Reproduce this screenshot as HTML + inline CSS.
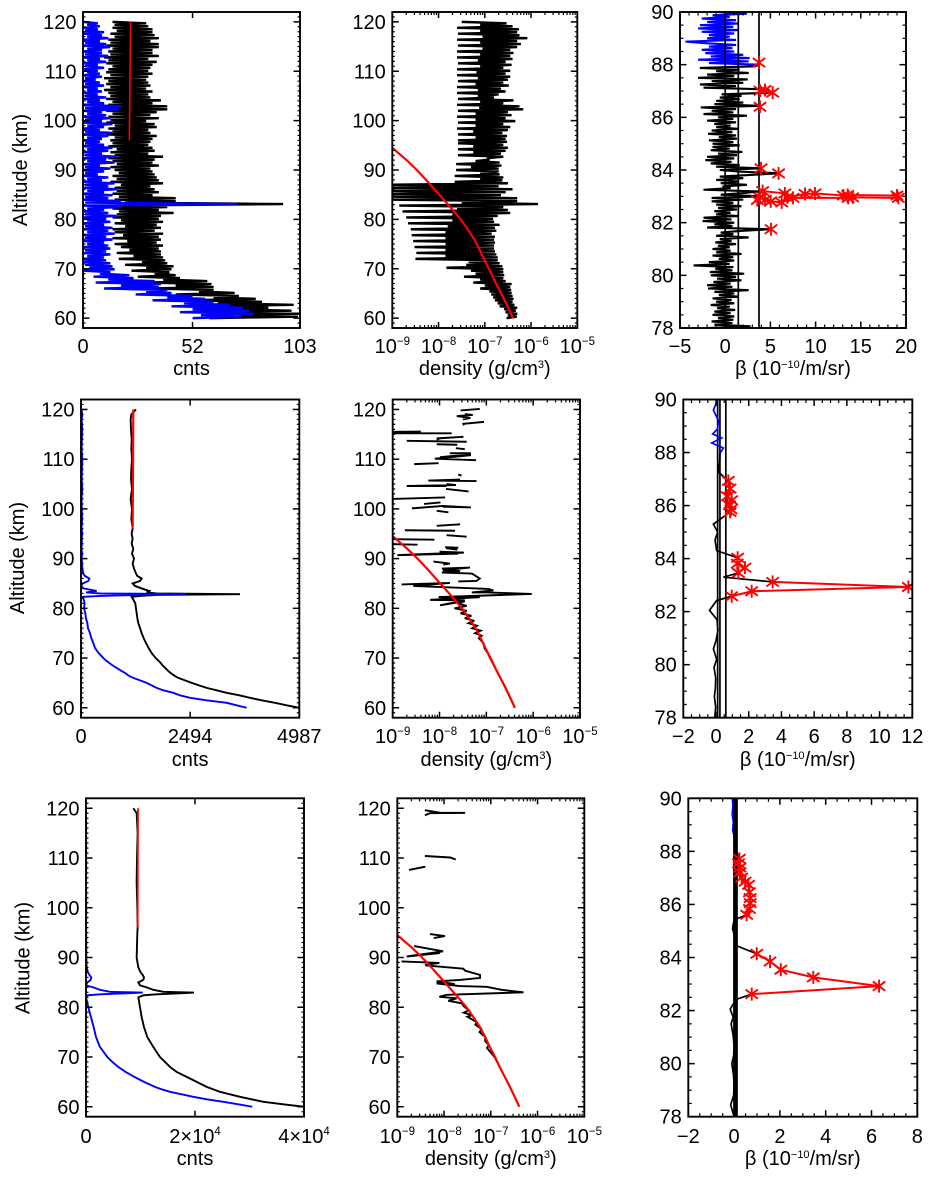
<!DOCTYPE html>
<html lang="en">
<head>
<meta charset="utf-8">
<title>Lidar altitude profiles</title>
<style>
html,body{margin:0;padding:0;background:#fff}
svg{display:block;filter:blur(0.35px)}
text{font-family:"Liberation Sans",Arial,sans-serif;fill:#000}
</style>
</head>
<body>
<svg id="figure" xmlns="http://www.w3.org/2000/svg" width="931" height="1179" viewBox="0 0 931 1179"></svg>
<script>
/* ---------- Row 1: counts (dense, sampled every 0.3 km from 60 km) ---------- */
const row1CountsBlack = [
60,102,74,103,58,99,70,88,52,100,64,85,50,82,62,74,44,72,55,62,
33,62,44,61,30,59,38,46,26,44,34,41,23,42,30,43,20,40,28,39,
17,38,24,37,16,37,22,36,18,38,15,35,21,37,14,36,19,38,15,34,
14,37,20,35,15,38,18,36,14,37,16,43,17,36,14,40,16,95,20,44,
15,44,17,33,14,36,16,34,15,32,18,38,13,36,16,35,14,34,17,33,
15,32,13,36,16,33,14,34,12,38,15,31,13,34,16,33,12,31,14,32,
13,33,15,35,11,32,14,31,12,35,15,34,11,30,13,36,12,32,14,35,
11,40,13,40,12,33,14,37,11,32,13,31,12,33,10,30,13,32,11,31,
12,30,10,31,13,33,11,31,12,32,14,33,11,35,12,31,10,36,13,33,
12,33,14,36,11,36,13,32,12,36,15,34,13,33,16,33,14,31,15,30,
14];
const row1CountsBlue = [
52,75,56,81,46,79,52,76,42,70,48,62,33,58,40,52,25,42,30,40,
10,36,18,37,6,34,12,24,5,22,8,13,0,15,3,14,1,13,0,11,
0,10,2,13,0,11,1,13,0,12,2,10,0,14,1,11,0,15,2,12,
0,14,1,10,0,13,2,11,0,16,1,12,0,10,2,17,0,73,1,18,
0,12,1,14,0,10,2,16,0,12,1,15,0,9,2,12,0,7,1,10,
0,13,1,8,0,15,2,11,0,16,1,9,0,12,2,14,0,10,1,8,
0,9,2,12,0,14,1,8,0,10,2,14,0,9,1,13,0,11,2,9,
0,17,1,18,0,10,2,8,0,11,1,7,0,9,2,7,0,10,1,8,
0,6,1,9,0,8,2,7,0,10,1,7,0,11,2,8,0,12,1,9,
0,9,2,13,0,11,1,8,0,12,2,9,0,10,1,7,0,8,2,7,
0];
const row1FitAlt = [96,120];
const row1FitCounts = [22,22.6];
const row1CountTicks = [0,52,103];
const row1CountLabels = ['0','52','103'];

/* ---------- Row 1: log10 density (same 0.3 km sampling) ---------- */
const row1DensityLog = [
-6.53,-6.31,-6.5,-6.3,-6.55,-6.33,-6.58,-6.3,-6.68,-6.36,-6.72,-6.4,-6.78,-6.38,-6.82,-6.4,-6.86,-6.42,-6.9,-6.43,
-7.1,-6.45,-7.0,-6.42,-7.25,-6.55,-7.1,-6.6,-7.45,-6.58,-7.2,-6.6,-7.3,-6.6,-7.83,-6.62,-7.4,-6.68,-7.35,-6.72,
-8.5,-6.72,-7.85,-6.75,-8.48,-6.78,-7.85,-6.8,-8.52,-6.8,-7.85,-6.78,-8.55,-6.8,-7.85,-6.78,-8.58,-6.85,-7.85,-6.75,
-8.6,-6.78,-7.8,-6.68,-8.66,-6.8,-7.7,-6.82,-8.7,-6.72,-7.7,-6.45,-8.78,-6.5,-7.6,-6.6,-8.85,-5.85,-7.5,-6.3,
-9.1,-6.3,-9.1,-6.65,-9.1,-6.55,-9.1,-6.4,-9.1,-6.7,-9.1,-6.5,-7.65,-6.62,-7.1,-6.6,-7.65,-6.68,-7.1,-6.7,
-7.62,-6.7,-7.3,-6.64,-7.62,-6.68,-7.2,-6.9,-6.95,-6.6,-7.58,-6.65,-7.25,-6.55,-7.58,-6.5,-7.25,-6.6,-7.58,-6.52,
-7.58,-6.55,-7.2,-6.52,-7.58,-6.62,-7.25,-6.5,-7.6,-6.45,-7.2,-6.6,-7.58,-6.34,-7.2,-6.55,-7.6,-6.42,-7.2,-6.5,
-7.58,-6.17,-7.12,-6.25,-7.6,-6.6,-7.1,-6.38,-7.58,-6.8,-7.15,-6.7,-7.6,-6.55,-7.15,-6.65,-7.6,-6.48,-7.2,-6.6,
-7.58,-6.5,-7.15,-6.45,-7.6,-6.55,-7.18,-6.45,-7.6,-6.6,-7.1,-6.42,-7.58,-6.55,-7.15,-6.4,-7.6,-6.45,-7.1,-6.38,
-7.6,-6.45,-7.05,-6.3,-7.58,-6.22,-7.1,-6.3,-7.6,-6.08,-7.05,-6.25,-7.58,-6.3,-7.1,-6.26,-7.6,-6.4,-7.1,-6.53,
-7.5];

/* ---------- Model density curve, shared by all rows ---------- */
const modelAlt = [60,62,64,66,68,70,72,74,76,78,80,82,84,86,88,90,92,94.5];
const modelDensityLog = [-6.39,-6.49,-6.59,-6.7,-6.81,-6.91,-7.02,-7.12,-7.23,-7.37,-7.52,-7.7,-7.89,-8.08,-8.27,-8.47,-8.69,-9];
const densityTickExponents = [-9,-8,-7,-6,-5];

/* ---------- Row 1: beta (sampled every 1/16 km from 78 km) ---------- */
const row1BetaBlack = [
-2,2.8,-1.2,0.8,-1.5,0.9,-0.8,1.0,-1.4,0.6,-1.2,1.1,-0.9,0.5,-1.6,1.0,
-1.0,0.7,-1.4,1.5,-0.7,1.0,-1.2,2.6,-1.9,0.8,-2.0,0.6,-1.3,1.8,-0.9,1.2,
-1.6,2.1,-1.7,0.8,-1.1,0.9,-3.5,0.5,-1.8,1.0,-0.7,0.9,-1.4,1.8,-1.0,0.6,
-1.4,0.5,-0.8,1.2,-1.1,0.7,-0.6,2.6,-1.0,0.9,-0.5,1.7,5.0,-2.0,0.8,-1.2,
1.0,-2.5,0.7,-2.4,1.4,-1.0,0.6,-1.2,1.3,-0.8,1.8,-1.0,0.9,-1.5,2.0,-1.5,
4.0,-0.5,2.0,3.7,-2.4,0.6,-0.3,2.4,-0.5,1.5,-1.0,2.0,-0.6,2.8,6.0,1.8,
-0.6,4.0,-1.0,1.6,-1.6,0.7,-2.2,1.0,-2.0,1.3,-0.8,1.9,-1.6,0.5,-1.4,1.6,
-1.4,0.9,-1.8,1.3,-0.7,1.2,-1.9,0.8,-1.5,1.4,-1.0,0.6,-1.2,1.2,-2.0,0.9,
-0.8,2.4,-2.4,0.9,-1.5,1.2,-2.7,3.85,-1.2,2.0,-1.0,1.6,-0.6,1.8,-0.4,5.25,
3.85,4.4,-2.4,1.2,-2.8,2.0,-1.5,2.5,-3.0,1.0,-2.0,2.6,-1.0,1.6,-2.8,3.3,
3.74];
const row1BetaBlue = [3.74,-1.8,2.6,-3.0,2.7,-1.6,2.0,-2.2,1.0,-2.6,0.8,-1.8,1.2,-2.0,-4.4,1.2,-2.0,0.5,-1.8,1.0,-2.6,1.5,-3.0,0.9,-2.8,1.4,-2.0,1.2,-2.6,0.5,-1.4,2.4,-0.8];
const row1StarAlt = [88.08,null,87.01,87.04,86.94,null,86.4,null,84.06,null,83.87,null,81.75,null,83.2,83.11,82.96,83.09,83.11,83.03,83.05,83.03,82.94,82.96,82.94,82.94,82.77,82.81,82.86,82.96,82.86];
const row1StarBeta = [3.74,null,3.85,4.4,5.25,null,3.85,null,3.96,null,5.9,null,5.07,null,4.14,6.6,6.87,8.83,9.93,13.07,13.55,19,19.15,14.1,13.6,7.5,6.25,5.03,4.4,3.85,3.55];
const row1Thresholds = [0,1.45,3.74];
const row1BetaTicks = [-5,0,5,10,15,20];
const row1BetaLabels = ['−5','0','5','10','15','20'];

/* ---------- Row 2: counts ---------- */
const row2Alt = [60,60.5,61,61.5,62,62.5,63,63.5,64,64.5,65,65.5,66,66.5,67,67.5,68,68.5,69,69.5,70,71,72,73,74,75,76,77,78,79,80,81,82,82.3,82.5,82.7,82.85,83,83.2,83.5,84,84.5,85,85.5,86,86.5,87,88,89,90,91,92,93,94,95,96,98,100,102,104,106,108,110,112,114,116,118,119,120];
const row2CountsBlack = [4987,4698,4431,4127,3860,3617,3327,3099,2870,2695,2528,2376,2223,2124,2048,1980,1926,1865,1820,1766,1706,1614,1546,1485,1431,1386,1348,1310,1287,1272,1256,1240,1180,1157,1348,1728,3632,1728,1500,1561,1386,1233,1180,1348,1386,1287,1256,1211,1180,1211,1165,1195,1157,1180,1157,1180,1150,1165,1134,1165,1142,1150,1165,1150,1158,1142,1134,1150,1256];
const row2CountsBlue = [3784,3556,3327,2870,2490,2261,2109,1881,1728,1614,1500,1348,1195,1081,1005,906,815,723,647,571,510,404,320,282,236,206,160,145,114,99,69,84,53,8,434,1348,2414,434,114,358,53,0,38,168,190,91,53,30,23,15,25,10,20,15,30,12,25,18,12,30,15,22,30,12,20,28,15,30,10];
const row2FitAlt = [96,120];
const row2FitCounts = [1180,1195];
const row2CountTicks = [0,2494,4987];
const row2CountLabels = ['0','2494','4987'];

/* ---------- Row 2: log10 density (null = gap in the profile) ---------- */
const row2DensityAlt = [120.1,119.8,null,119.07,118.9,118.66,118.3,118,null,117.5,117.1,116.8,null,115.5,115.56,115.2,115.2,null,114.2,114.5,114.2,113.9,null,113.7,113.5,null,113,112.9,null,112.2,112,null,111.2,111.2,111,110.4,110.8,110.1,109.8,null,109,109.2,null,106.9,106.7,null,105.9,105.7,105.6,null,105,104.8,104.6,104.6,null,104,103.5,null,102,102.3,null,101,101.3,null,100.1,100.6,100.3,100.45,null,99.6,99.3,null,96.6,96.9,null,95.7,95.6,null,94.7,94.4,null,93.9,93.8,null,92.9,92.8,null,92.3,92.2,92.1,91.8,null,91.4,91.2,90.7,91,null,89.4,89,88.8,null,88,88.2,87.65,87.5,87.2,87,86,85.5,85.4,null,84.8,85.1,84.5,83.9,83.6,83.2,83.2,82.9,82.25,82.25,81.7,81.6,80.6,81.4,81,80.5,80,79.5,79,78.5,78,77.5,77,76.5,76,75.5,75,74.5,74,73,72,71,70,68,66,64,62,60];
const row2DensityLog = [-7.14,-7.55,null,-7.46,-7.29,-7.63,-7.34,-7.5,null,-7.05,-7.49,-7.48,null,-9,-8.4,-8.99,-7.74,null,-8.06,-7.49,-7.99,-8.06,null,-8.7,-7.42,null,-8.06,-7.62,null,-7.65,-7.46,null,-7.33,-7.78,-7.33,-7.99,-7.33,-8.1,-7.22,null,-8.54,-8.02,null,-7.6,-7.53,null,-7.56,-8.24,-7.21,null,-7.85,-7.65,-8.7,-7.85,null,-7.86,-7.38,null,-9,-7.88,null,-8.33,-7.98,null,-8.59,-7.93,-7.33,-7.93,null,-8.06,-7.81,null,-8.06,-7.56,null,-8.74,-7.67,null,-7.85,-7.42,null,-9,-8.11,null,-9,-8.47,null,-7.88,-7.6,-7.86,-7.62,null,-8,-7.48,-8.9,-7.6,null,-8.13,-7.78,-7.92,null,-7.95,-7.35,-7.93,-7.56,-7.95,-7.31,-7.14,-7.21,-7.6,null,-8.81,-7.78,-8.56,-6.96,-6.85,-7.31,-7,-6.03,-8.02,-7.14,-8.2,-7.46,-7.99,-7.46,-7.62,-7.42,-7.68,-7.42,-7.55,-7.32,-7.46,-7.26,-7.38,-7.2,-7.3,-7.12,-7.24,-7.1,-7.16,-7.06,-7.04,-6.97,-6.92,-6.81,-6.7,-6.59,-6.49,-6.39];

/* ---------- Row 2: beta ---------- */
const row2BlackAlt = [78,78.4,78.8,79.1,79.5,79.9,80.2,80.6,80.9,81.3,81.7,82.05,82.42,82.58,null,83.46,83.3,83.12,null,84.03,84.3,84.7,85,85.3,85.76,null,86.93,87.27,87.6,87.96];
const row2BlackBeta = [-0.08,-0.02,-0.1,-0.04,-0.02,-0.12,0.04,-0.16,0.0,0.12,0.06,-0.4,0.04,0.96,null,1.37,0.45,3.46,null,1.32,0.04,-0.06,0.1,-0.16,0.86,null,0.75,0.14,0.22,0.24];
const row2BlueAlt = [87.96,88.17,88.36,88.55,88.7,88.9,89.2,89.6,90];
const row2BlueBeta = [0.24,0.45,-0.26,0.35,-0.2,0.1,0.15,-0.16,0.1];
const row2StarAlt = [86.93,86.64,86.35,86.2,86.01,85.86,85.76,null,84.03,83.81,83.66,83.46,null,83.12,82.93,82.77,82.58];
const row2StarBeta = [0.75,0.86,0.69,0.96,0.82,0.92,0.86,null,1.32,1.3,1.77,1.37,null,3.46,11.76,2.18,0.96];
const row2Thresholds = [0.1,0.24,0.6];
const row2BetaTicks = [-2,0,2,4,6,8,10,12];
const row2BetaLabels = ['−2','0','2','4','6','8','10','12'];

/* ---------- Row 3: counts ---------- */
const row3Alt = [60,60.5,61,61.5,62,62.5,63,63.5,64,65,66,67,68,69,70,72,74,76,78,80,82,82.4,82.6,82.8,82.95,83.1,83.5,84,84.4,85,85.5,86,86.5,87,88,90,95,96,100,105,110,115,119,120];
const row3CountsBlack = [40000,36207,32537,30397,28256,26421,24586,23363,22140,20305,18470,16636,15412,14495,13578,12354,11253,10642,10214,9908,9602,10520,12966,17247,19816,14189,12354,11131,9908,9602,10520,10642,10397,10030,9602,9296,9419,9480,9419,9296,9357,9480,9296,8685];
const row3CountsBlue = [30519,27950,25198,22140,19694,17553,15412,13883,12660,10642,8868,7278,5933,4832,3914,2569,1835,1407,917,428,0,245,2569,7461,10397,4404,2569,1345,0,245,856,979,612,367,122,60,30,20,40,20,30,20,10,0];
const row3FitAlt = [96,120];
const row3FitCounts = [9480,9541];
const row3CountTicks = [0,20000,40000];
const row3CountBases = ['0','2×10','4×10'];
const row3CountExponents = ['','4','4'];

/* ---------- Row 3: log10 density ---------- */
const row3DensityAlt = [119.6,119.1,119.07,119,118.6,null,110.4,110.1,109.7,null,107.6,108.25,null,94.7,94.3,93.9,null,92.3,91.25,90.2,90.9,null,89.2,88.9,88.5,null,88.4,87.76,87.35,86.5,85.9,85.5,85.2,84.66,84.8,84.26,84.1,83.5,83,82.5,82.1,81.8,81.3,80.8,80.2,79.4,78.9,78.4,78.1,77,76.5,75.6,75,74,73.2,72.4,71.8,70,68];
const row3DensityLog = [-8.41,-8.09,-7.55,-8.3,-8.41,null,-8.41,-7.87,-7.75,null,-8.75,-8.4,null,-8.3,-7.98,-8.22,null,-8.64,-8.02,-8.8,-8.09,null,-8.91,-8.1,-8.41,null,-8.39,-7.59,-7.55,-7.23,-7.23,-7.66,-8.16,-7.77,-8.16,-7.67,-7.09,-6.77,-6.3,-7.94,-8.1,-7.73,-7.91,-7.62,-7.58,-7.47,-7.58,-7.4,-7.5,-7.3,-7.33,-7.2,-7.24,-7.12,-7.12,-7.04,-7.08,-6.92,-6.81];

/* ---------- Row 3: beta ---------- */
const row3BlackAlt = [78,78.45,78.8,79.2,79.6,80,80.3,80.7,81.1,81.5,81.75,82.05,82.42,82.62,null,84.14,84.45,84.8,85.1,85.42,85.61,null,87.72,88,88.5];
const row3BlackBeta = [0,-0.15,-0.02,0,-0.03,-0.1,-0.02,0,-0.05,-0.13,-0.04,-0.17,0.08,0.77,null,0.99,0.08,0.02,-0.07,0,0.55,null,0.23,0.1,0.03];
const row3BlueAlt = [88.5,88.8,89.1,89.4,89.7,90];
const row3BlueBeta = [0.03,-0.06,-0.03,-0.08,-0.05,-0.07];
const row3StarAlt = [87.72,87.55,87.39,87.21,87.01,86.86,86.74,86.46,86.24,86.05,85.83,85.61,null,84.14,83.85,83.54,83.25,82.92,82.62];
const row3StarBeta = [0.23,0.19,0.26,0.26,0.33,0.48,0.63,0.67,0.7,0.7,0.67,0.55,null,0.99,1.57,2.04,3.46,6.33,0.77];
const row3Thresholds = [0,0.06,0.12];
const row3BetaTicks = [-2,0,2,4,6,8];
const row3BetaLabels = ['−2','0','2','4','6','8'];

const altTicks = [60,70,80,90,100,110,120];
const betaAltTicks = [78,80,82,84,86,88,90];

/* sampling grid helpers for the dense first-row profiles */
const denseStart = 60, denseStep = 0.3;
const betaStart = 78, betaBlueStart = 88, betaStep = 0.0625;
function grid(values, start, step){ return values.map(function(_, i){ return start + i * step; }); }

/* ---------- Drawing ---------- */
const NS = 'http://www.w3.org/2000/svg';
const svg = document.getElementById('figure');
const BLUE = '#0000ff', RED = '#ff0000', BLACK = '#000000';

function mk(parent, tag, attrs, text){
  const el = document.createElementNS(NS, tag);
  for (const k in attrs) el.setAttribute(k, attrs[k]);
  if (text !== undefined) el.textContent = text;
  parent.appendChild(el);
  return el;
}
function makeScales(p){
  p.sx = function(v){
    const t = (v - p.xMin) / (p.xMax - p.xMin);
    return p.x0 + t * (p.x1 - p.x0);
  };
  p.sy = function(a){
    const t = (a - p.yMin) / (p.yMax - p.yMin);
    return p.y1 - t * (p.y1 - p.y0);
  };
}
function pathFor(p, alts, vals){
  let d = '', pen = false;
  for (let i = 0; i < alts.length; i++){
    if (alts[i] === null || vals[i] === null){ pen = false; continue; }
    d += (pen ? 'L' : 'M') + p.sx(vals[i]).toFixed(2) + ' ' + p.sy(alts[i]).toFixed(2);
    pen = true;
  }
  return d;
}
function series(p, alts, vals, color, width, name){
  const el = mk(p.g, 'path', {d: pathFor(p, alts, vals), fill: 'none', stroke: color, 'stroke-width': width, 'stroke-linejoin': 'miter', 'stroke-miterlimit': 3, 'clip-path': 'url(#' + p.id + '-clip)'});
  
  
  return el;
}
function stars(p, alts, vals){
  const g = mk(p.g, 'g', {stroke: RED, 'stroke-width': 1.9, fill: 'none', 'clip-path': 'url(#' + p.id + '-clip)'});
  
  
  for (let i = 0; i < alts.length; i++){
    if (alts[i] === null) continue;
    const cx = p.sx(vals[i]), cy = p.sy(alts[i]);
    const d = 'M' + cx.toFixed(2) + ' ' + (cy - 6.5).toFixed(2) + 'V' + (cy + 6.5).toFixed(2) +
      'M' + (cx - 6.2).toFixed(2) + ' ' + (cy - 4.6).toFixed(2) + 'L' + (cx + 6.2).toFixed(2) + ' ' + (cy + 4.6).toFixed(2) +
      'M' + (cx - 6.2).toFixed(2) + ' ' + (cy + 4.6).toFixed(2) + 'L' + (cx + 6.2).toFixed(2) + ' ' + (cy - 4.6).toFixed(2);
    const star = mk(g, 'path', {d: d});
    
    
  }
}
function thresholds(p, vals, width){
  vals.forEach(function(v){
    const el = mk(p.g, 'line', {x1: p.sx(v), x2: p.sx(v), y1: p.y0, y2: p.y1, stroke: BLACK, 'stroke-width': width});
    
    
  });
}
function xTick(p, v, len){
  [[p.y1, p.y1 - len], [p.y0, p.y0 + len]].forEach(function(e){
    const el = mk(p.g, 'line', {x1: p.sx(v), x2: p.sx(v), y1: e[0], y2: e[1], stroke: BLACK, 'stroke-width': len > 4 ? 1.5 : 1.2});
    
    
  });
}
function yTick(p, a, len){
  [[p.x0, p.x0 + len], [p.x1, p.x1 - len]].forEach(function(e){
    const el = mk(p.g, 'line', {y1: p.sy(a), y2: p.sy(a), x1: e[0], x2: e[1], stroke: BLACK, 'stroke-width': len > 4 ? 1.5 : 1.2});
    
    
  });
}
function xLabel(p, v, base, exp){
  const t = mk(p.g, 'text', {x: p.sx(v), y: p.tickY, 'text-anchor': 'middle', 'font-size': 20});
  
  
  const a = mk(t, 'tspan', {}, base);
  
  
  if (exp){
    const e = mk(t, 'tspan', {dy: -8, 'font-size': 11.5}, exp);
    
    
  }
}
function frame(p){
  const defs = mk(svg, 'defs', {});
  const clip = mk(defs, 'clipPath', {id: p.id + '-clip'});
  mk(clip, 'rect', {x: p.x0, y: p.y0, width: p.x1 - p.x0, height: p.y1 - p.y0});
  p.g = mk(svg, 'g', {});
  
  
}
function finishAxes(p){
  const box = mk(p.g, 'rect', {x: p.x0, y: p.y0, width: p.x1 - p.x0, height: p.y1 - p.y0, fill: 'none', stroke: BLACK, 'stroke-width': 1.9});
  
  
  const yMajor = p.kind === 'beta' ? betaAltTicks : altTicks;
  const minorStep = p.kind === 'beta' ? 0.5 : 1;
  for (let a = Math.ceil(p.yMin / minorStep) * minorStep; a <= p.yMax + 1e-6; a += minorStep){
    if (yMajor.indexOf(a) < 0) yTick(p, a, p.kind === 'beta' ? 3.5 : 2.5);
  }
  yMajor.forEach(function(a){
    yTick(p, a, 6.5);
    const t = mk(p.g, 'text', {x: p.x0 - 6.5, y: p.sy(a) + 7, 'text-anchor': 'end', 'font-size': 20}, String(a));
    
    
  });
}
function xTitle(p, parts, y){
  const t = mk(p.g, 'text', {x: (p.x0 + p.x1) / 2, y: y, 'text-anchor': 'middle', 'font-size': 20});
  
  
  parts.forEach(function(s, i){
    const isSup = i % 2 === 1;
    const span = mk(t, 'tspan', isSup ? {dy: -7, 'font-size': 11} : (i > 0 ? {dy: 7} : {}), s);
    
    
  });
}
function yTitle(p, bx, cy){
  const t = mk(p.g, 'text', {transform: 'translate(' + bx + ' ' + cy + ') rotate(-90)', 'text-anchor': 'middle', 'font-size': 20}, 'Altitude (km)');
  
  
}
function panel(id, kind, x0, x1, row, xMin, xMax){
  const p = {id: id, kind: kind, x0: x0, x1: x1, y0: row.top, y1: row.bottom, tickY: row.tickY, xMin: xMin, xMax: xMax,
             yMin: kind === 'beta' ? 78 : 58, yMax: kind === 'beta' ? 90 : 122};
  makeScales(p);
  frame(p);
  return p;
}
function drawCounts(p, row, alts, black, blue, fitAlt, fit, ticks, labels, exps, bx, cy, fitW){
  series(p, alts, black, BLACK, row.dataW, 'counts-total-line');
  series(p, alts, blue, BLUE, row.dataW, 'counts-channel-line');
  series(p, fitAlt, fit, RED, fitW, 'background-fit-line');
  ticks.forEach(function(v, i){
    xTick(p, v, 6);
    xLabel(p, v, labels[i], exps ? exps[i] : '');
  });
  finishAxes(p);
  xTitle(p, ['cnts'], row.labelY);
  yTitle(p, bx, cy);
}
function drawDensity(p, row, alts, logs, width){
  series(p, alts, logs, BLACK, width, 'retrieved-density-line');
  series(p, modelAlt, modelDensityLog, RED, 2.2, 'model-density-curve');
  densityTickExponents.forEach(function(e, i){
    xTick(p, e, 6);
    xLabel(p, e, '10', '−' + Math.abs(e));
    if (i < densityTickExponents.length - 1){
      for (let m = 2; m < 10; m++) xTick(p, e + Math.log10(m), 3);
    }
  });
  finishAxes(p);
  xTitle(p, ['density (g/cm', '3', ')'], row.labelY);
}
function drawBeta(p, row, ticks, labels, minorStep){
  for (let v = p.xMin; v <= p.xMax + 1e-6; v += minorStep){
    if (ticks.indexOf(v) < 0) xTick(p, v, 3.5);
  }
  ticks.forEach(function(v, i){
    xTick(p, v, 6.5);
    xLabel(p, v, labels[i], '');
  });
  finishAxes(p);
  xTitle(p, ['β (10', '−10', '/m/sr)'], row.labelY);
}

const rowA = {top: 12, bottom: 328, tickY: 353, labelY: 375, dataW: 2.4};
const rowB = {top: 399.5, bottom: 717.7, tickY: 743, labelY: 766, dataW: 1.9};
const rowC = {top: 798.3, bottom: 1116.7, tickY: 1143, labelY: 1165, dataW: 1.9};

/* Row 1 */
const a1 = panel('row1-counts', 'counts', 83, 300, rowA, 0, 103);
drawCounts(a1, rowA, grid(row1CountsBlack, denseStart, denseStep), row1CountsBlack, row1CountsBlue, row1FitAlt, row1FitCounts, row1CountTicks, row1CountLabels, null, 27, 170, 1.6);
const a2 = panel('row1-density', 'density', 392.3, 577.3, rowA, -9, -5);
drawDensity(a2, rowA, grid(row1DensityLog, denseStart, denseStep), row1DensityLog, 2.4);
const a3 = panel('row1-beta', 'beta', 680, 906, rowA, -5, 20);
series(a3, grid(row1BetaBlack, betaStart, betaStep), row1BetaBlack, BLACK, 2.1, 'beta-profile-line');
series(a3, grid(row1BetaBlue, betaBlueStart, betaStep), row1BetaBlue, BLUE, 2.1, 'beta-upper-profile-line');
thresholds(a3, row1Thresholds, 1.7);
series(a3, row1StarAlt, row1StarBeta, RED, 2, 'beta-exceedance-line');
stars(a3, row1StarAlt, row1StarBeta);
drawBeta(a3, rowA, row1BetaTicks, row1BetaLabels, 1);

/* Row 2 */
const b1 = panel('row2-counts', 'counts', 81, 299.3, rowB, 0, 4987);
drawCounts(b1, rowB, row2Alt, row2CountsBlack, row2CountsBlue, row2FitAlt, row2FitCounts, row2CountTicks, row2CountLabels, null, 24, 558, 2.2);
const b2 = panel('row2-density', 'density', 392.7, 580, rowB, -9, -5);
drawDensity(b2, rowB, row2DensityAlt, row2DensityLog, 1.9);
const b3 = panel('row2-beta', 'beta', 683.3, 912.3, rowB, -2, 12);
thresholds(b3, row2Thresholds, 1.7);
series(b3, row2BlackAlt, row2BlackBeta, BLACK, 1.7, 'beta-profile-line');
series(b3, row2BlueAlt, row2BlueBeta, BLUE, 1.7, 'beta-upper-profile-line');
series(b3, row2StarAlt, row2StarBeta, RED, 2, 'beta-exceedance-line');
stars(b3, row2StarAlt, row2StarBeta);
drawBeta(b3, rowB, row2BetaTicks, row2BetaLabels, 0.5);

/* Row 3 */
const c1 = panel('row3-counts', 'counts', 86, 304, rowC, 0, 40000);
drawCounts(c1, rowC, row3Alt, row3CountsBlack, row3CountsBlue, row3FitAlt, row3FitCounts, row3CountTicks, row3CountBases, row3CountExponents, 29.5, 958, 1.8);
const c2 = panel('row3-density', 'density', 397.3, 584.3, rowC, -9, -5);
drawDensity(c2, rowC, row3DensityAlt, row3DensityLog, 1.9);
const c3 = panel('row3-beta', 'beta', 688.3, 917.3, rowC, -2, 8);
series(c3, row3BlueAlt, row3BlueBeta, BLUE, 1.8, 'beta-upper-profile-line');
thresholds(c3, row3Thresholds, 2);
series(c3, row3BlackAlt, row3BlackBeta, BLACK, 1.7, 'beta-profile-line');
series(c3, row3StarAlt, row3StarBeta, RED, 2, 'beta-exceedance-line');
stars(c3, row3StarAlt, row3StarBeta);
drawBeta(c3, rowC, row3BetaTicks, row3BetaLabels, 0.5);
</script>
</body>
</html>
